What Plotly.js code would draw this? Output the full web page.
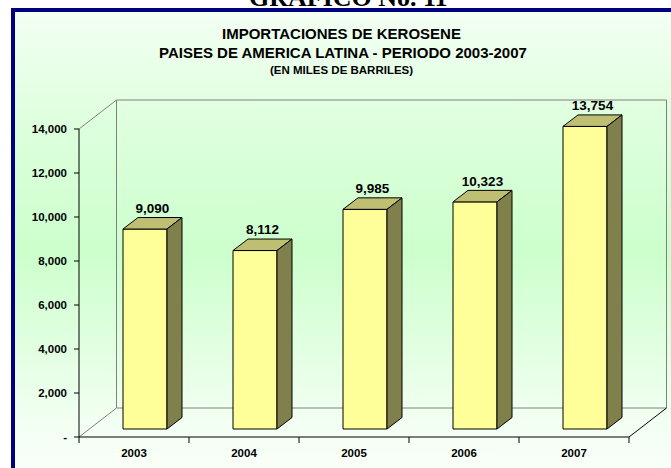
<!DOCTYPE html>
<html>
<head>
<meta charset="utf-8">
<script src="https://cdn.plot.ly/plotly-3.0.1.min.js"></script>
<style>
  html, body { margin:0; padding:0; background:#ffffff; }
  body { width:671px; height:468px; overflow:hidden; position:relative; }
  #frame { position:absolute; left:11px; top:8px; width:720px; height:530px; box-sizing:border-box;
           border:4px solid #000080;
           background: linear-gradient(to bottom, #f3fff3 0%, #ddffdd 22%, #ccffcc 46%, #f4fff4 80%, #ffffff 100%); }
  #chart { position:absolute; left:0; top:0; width:671px; height:468px; }
</style>
</head>
<body>
<div id="frame"></div>
<div id="chart"></div>
<script>
// ---- data ----
const categories = ['2003', '2004', '2005', '2006', '2007'];
const values = [9090, 8112, 9985, 10323, 13754];
const yTickVals = [0, 2000, 4000, 6000, 8000, 10000, 12000, 14000];
const yTickText = ['-', '2,000', '4,000', '6,000', '8,000', '10,000', '12,000', '14,000'];
const chartTitle = 'IMPORTACIONES DE KEROSENE';
const chartSubtitle = 'PAISES DE AMERICA LATINA - PERIODO 2003-2007';
const chartUnits = '(EN MILES DE BARRILES)';
const pageHeading = 'GRAFICO No. 11';

// ---- geometry (pixels) ----
const W = 671, H = 468;
const M = { l: 72, r: 1, t: 96, b: 22 };
const ORIGIN_X = 79, ORIGIN_Y = 437;   // pixel of (first boundary, 0)
const PX_CAT = 110;                     // pixels per category
const PX_UNIT = 0.022;                  // pixels per value unit
const px2x = px => (px - ORIGIN_X) / PX_CAT - 0.5;
const px2y = py => (ORIGIN_Y - py) / PX_UNIT;
const dX = p => p / PX_CAT;             // pixel width -> x units
const dY = p => p / PX_UNIT;            // pixel height -> y units

const xRange = [px2x(M.l), px2x(W - M.r)];
const yRange = [px2y(H - M.b), px2y(M.t)];

const X0 = -0.5, X1 = categories.length - 0.5;
const YMAX = yTickVals[yTickVals.length - 1];
const WALL_DX = dX(37.5), WALL_DY = dY(29);
const BAR_SHIFT_X = dX(11), BAR_BASE = dY(8);
const BAR_W = dX(44);
const BAR_DX = dX(15), BAR_DY = dY(11.5);

const shapes = [];
const gray = { color: '#808080', width: 1 };
const black = { color: '#000000', width: 1 };
function seg(x0, y0, x1, y1, line) {
  shapes.push({ type: 'line', xref: 'x', yref: 'y', x0, y0, x1, y1, line, layer: 'below' });
}
// back wall
seg(X0 + WALL_DX, WALL_DY, X1 + WALL_DX, WALL_DY, gray);
seg(X0 + WALL_DX, YMAX + WALL_DY, X1 + WALL_DX, YMAX + WALL_DY, gray);
seg(X0 + WALL_DX, WALL_DY, X0 + WALL_DX, YMAX + WALL_DY, gray);
seg(X1 + WALL_DX, WALL_DY, X1 + WALL_DX, YMAX + WALL_DY, gray);
// left wall diagonals
seg(X0, YMAX, X0 + WALL_DX, YMAX + WALL_DY, gray);
seg(X0, 0, X0 + WALL_DX, WALL_DY, gray);
// axes
seg(X0, 0, X0, YMAX, black);
seg(X0, 0, X1, 0, black);
seg(X1, 0, X1 + WALL_DX, WALL_DY, black);
// y ticks
yTickVals.forEach(v => seg(X0 - dX(5), v, X0, v, black));
// x ticks at category boundaries
for (let i = 0; i <= categories.length; i++) seg(X0 + i, 0, X0 + i, -dY(6), black);

const idx = categories.map((c, i) => i);
const traces = [];

// front faces
traces.push({
  type: 'bar', x: idx, y: values, base: BAR_BASE, width: BAR_W, offset: -0.5 * BAR_W + BAR_SHIFT_X,
  marker: { color: '#FFFF99', line: { color: '#000000', width: 1 } },
  hoverinfo: 'skip', showlegend: false
});

// top and side faces
values.forEach((v, i) => {
  const xl = i - 0.5 * BAR_W + BAR_SHIFT_X, xr = xl + BAR_W;
  const top = BAR_BASE + v;
  traces.push({
    type: 'scatter', mode: 'lines', fill: 'toself', fillcolor: '#BFBF73',
    x: [xl, xr, xr + BAR_DX, xl + BAR_DX, xl],
    y: [top, top, top + BAR_DY, top + BAR_DY, top],
    line: { color: '#000000', width: 1 }, hoverinfo: 'skip', showlegend: false
  });
  traces.push({
    type: 'scatter', mode: 'lines', fill: 'toself', fillcolor: '#80804D',
    x: [xr, xr + BAR_DX, xr + BAR_DX, xr, xr],
    y: [BAR_BASE, BAR_BASE + BAR_DY, top + BAR_DY, top, BAR_BASE],
    line: { color: '#000000', width: 1 }, hoverinfo: 'skip', showlegend: false
  });
});

// value labels
traces.push({
  type: 'scatter', mode: 'text',
  x: idx.map(i => i + BAR_SHIFT_X + BAR_DX / 2),
  y: values.map(v => BAR_BASE + v + BAR_DY + dY(8)),
  text: values.map(v => v.toLocaleString('en-US')),
  textposition: 'middle center',
  textfont: { family: 'Liberation Sans, Arial, sans-serif', size: 13.5, color: '#000000', weight: 'bold' },
  cliponaxis: false, hoverinfo: 'skip', showlegend: false
});

const plotW = W - M.l - M.r, plotH = H - M.t - M.b;
const paperX = px => (px - M.l) / plotW;
const paperY = py => (H - M.b - py) / plotH;
const titleFont = (size) => ({ family: 'Liberation Sans, Arial, sans-serif', size, color: '#000000', weight: 'bold' });

const annotations = [
  { text: pageHeading, xref: 'paper', yref: 'paper', x: paperX(348), y: paperY(-2), xanchor: 'center', yanchor: 'middle',
    showarrow: false, font: { family: 'Liberation Serif, Times New Roman, serif', size: 26, color: '#000000', weight: 'bold' } },
  { text: chartTitle, xref: 'paper', yref: 'paper', x: paperX(341), y: paperY(33), xanchor: 'center', yanchor: 'middle',
    showarrow: false, font: titleFont(15) },
  { text: chartSubtitle, xref: 'paper', yref: 'paper', x: paperX(343), y: paperY(52), xanchor: 'center', yanchor: 'middle',
    showarrow: false, font: titleFont(15) },
  { text: chartUnits, xref: 'paper', yref: 'paper', x: paperX(341), y: paperY(70), xanchor: 'center', yanchor: 'middle',
    showarrow: false, font: titleFont(11.5) }
];

const layout = {
  width: W, height: H,
  margin: M,
  paper_bgcolor: 'rgba(0,0,0,0)', plot_bgcolor: 'rgba(0,0,0,0)',
  showlegend: false,
  xaxis: {
    range: xRange, tickvals: idx, ticktext: categories, ticks: '', showgrid: false, zeroline: false, showline: false,
    tickfont: { family: 'Liberation Sans, Arial, sans-serif', size: 11.5, color: '#000000', weight: 'bold' },
    ticklabelstandoff: -2,
    fixedrange: true
  },
  yaxis: {
    range: yRange, tickvals: yTickVals, ticktext: yTickText, ticks: '', showgrid: false, zeroline: false, showline: false,
    tickfont: { family: 'Liberation Sans, Arial, sans-serif', size: 11.5, color: '#000000', weight: 'bold' },
    ticklabelstandoff: 4,
    fixedrange: true
  },
  shapes, annotations
};

Plotly.newPlot('chart', traces, layout, { displayModeBar: false, staticPlot: true });
</script>
</body>
</html>
